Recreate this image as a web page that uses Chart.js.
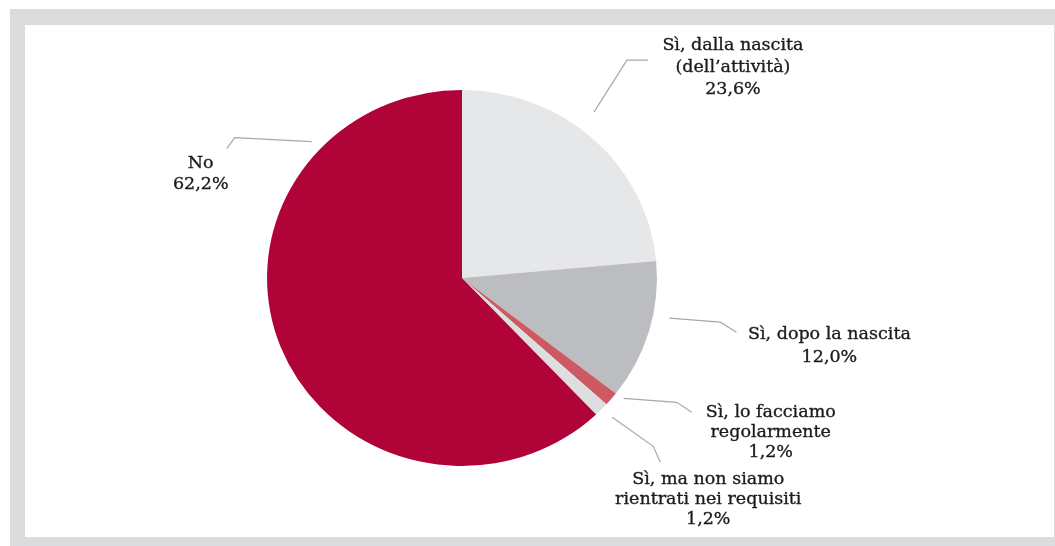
<!DOCTYPE html>
<html>
<head>
<meta charset="utf-8">
<script src="https://cdn.jsdelivr.net/npm/chart.js@4/dist/chart.umd.min.js"></script>
<style>
  html, body { margin: 0; padding: 0; background: #fff; }
  #frame { position: absolute; left: 10px; top: 9px; width: 1045px; height: 537px; background: #dbdcde; }
  #panel { position: absolute; left: 15px; top: 16px; width: 1029px; height: 512px; background: #fff; }
  #wrap { position: absolute; left: 0; top: 0; width: 1055px; height: 546px; }
</style>
</head>
<body>
<div id="frame"><div id="panel"></div></div>
<div id="wrap"><canvas id="pie" width="1055" height="546"></canvas></div>
<script>
const categories = [
  ['Sì, dalla nascita', '(dell\u2019attività)'],
  ['Sì, dopo la nascita'],
  ['Sì, lo facciamo', 'regolarmente'],
  ['Sì, ma non siamo', 'rientrati nei requisiti'],
  ['No']
];
const values = [23.6, 12.0, 1.2, 1.2, 62.2];
const valueLabels = ['23,6%', '12,0%', '1,2%', '1,2%', '62,2%'];
const sliceColors = ['#e6e7e8', '#bcbdc0', '#cd5a62', '#dddee0', '#b00338'];

// Leader line and label placement per slice:
// shift = degrees off the slice middle, gap = px beyond the rim,
// path = elbow points relative to the start, text = first line centre relative to the start.
const labelLayout = [
  { shift: -4.9, gap: 21, path: [[33, -52], [54, -52]], text: [139, -67], lh: 22 },
  { shift: -5.0, gap: 16, path: [[51, 4], [67, 14]], text: [160, 16], lh: 23 },
  { shift: -2.4, gap: 9, path: [[53, 4], [68, 14]], text: [147, 14], lh: 20 },
  { shift: -0.5, gap: 13, path: [[41, 29], [48, 45]], text: [96, 62], lh: 20 },
  { shift: 65.0, gap: 11, path: [[-77, -4], [-85, 7]], text: [-111, 22], lh: 21 }
];
const stretchX = 1.037;
const labelFont = '17.5px "DejaVu Serif", serif';

// Pie is drawn slightly wider than tall.
const stretchPlugin = {
  id: 'stretch',
  beforeDatasetsDraw(chart) {
    const arc = chart.getDatasetMeta(0).data[0];
    const ctx = chart.ctx;
    ctx.save();
    ctx.translate(arc.x, 0);
    ctx.scale(stretchX, 1);
    ctx.translate(-arc.x, 0);
  },
  afterDatasetsDraw(chart) {
    chart.ctx.restore();
  }
};

const leaderPlugin = {
  id: 'leaders',
  afterDraw(chart) {
    const ctx = chart.ctx;
    chart.getDatasetMeta(0).data.forEach((arc, i) => {
      const lay = labelLayout[i];
      const a = (arc.startAngle + arc.endAngle) / 2 + lay.shift * Math.PI / 180;
      const r = arc.outerRadius + lay.gap;
      const sx = arc.x + Math.cos(a) * r * stretchX;
      const sy = arc.y + Math.sin(a) * r;

      ctx.save();
      ctx.strokeStyle = '#a8a8aa';
      ctx.lineWidth = 1.2;
      ctx.beginPath();
      ctx.moveTo(sx, sy);
      lay.path.forEach(p => ctx.lineTo(sx + p[0], sy + p[1]));
      ctx.stroke();

      // a hairline stroke gives the labels a slightly heavier weight
      ctx.fillStyle = '#1e1a1b';
      ctx.strokeStyle = '#1e1a1b';
      ctx.lineWidth = 0.35;
      ctx.font = labelFont;
      ctx.textAlign = 'center';
      ctx.textBaseline = 'middle';
      const lines = categories[i].concat([valueLabels[i]]);
      lines.forEach((t, k) => {
        const tx = sx + lay.text[0];
        const ty = sy + lay.text[1] + k * lay.lh;
        ctx.fillText(t, tx, ty);
        ctx.strokeText(t, tx, ty);
      });
      ctx.restore();
    });
  }
};

new Chart(document.getElementById('pie'), {
  type: 'pie',
  data: {
    labels: categories.map(c => c.join(' ')),
    datasets: [{ data: values, backgroundColor: sliceColors, borderWidth: 0 }]
  },
  options: {
    responsive: false,
    animation: false,
    events: [],
    layout: { padding: { left: 274, right: 405, top: 90, bottom: 80 } },
    plugins: { legend: { display: false }, tooltip: { enabled: false } }
  },
  plugins: [stretchPlugin, leaderPlugin]
});
</script>
</body>
</html>
